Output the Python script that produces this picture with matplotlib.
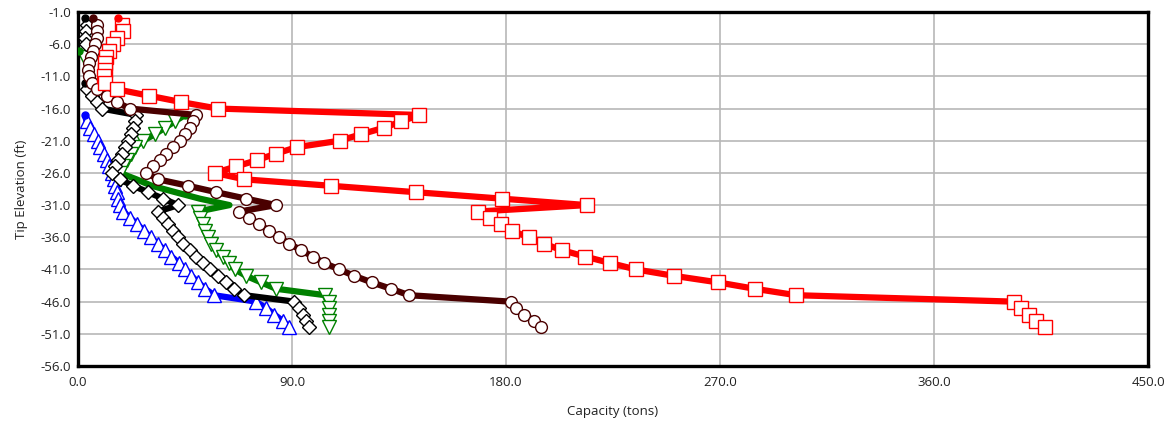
import math
import matplotlib
matplotlib.use("Agg")
import matplotlib.pyplot as plt

nan = float("nan")

# Tip elevation (ft), one value per foot
elevation = [-2, -3, -4, -5, -6, -7, -8, -9, -10, -11, -12, -13, -14, -15, -16, -17,
             -18, -19, -20, -21, -22, -23, -24, -25, -26, -27, -28, -29, -30, -31,
             -32, -33, -34, -35, -36, -37, -38, -39, -40, -41, -42, -43, -44, -45,
             -46, -47, -48, -49, -50]

# Capacity (tons) for each series, NaN = no value
red_cap = [17.0, 18.5, 19.0, 16.5, 14.8, 13.0, 11.8, 11.5, 11.2, 11.0, 11.5, 16.2, 29.8, 43.5, 58.7, 143.5,
           136.0, 128.5, 119.0, 110.0, 92.0, 83.3, 75.4, 66.5, 57.5, 70.0, 106.3, 142.2, 178.3, 214.0,
           168.3, 173.2, 177.7, 182.6, 189.6, 195.9, 203.5, 213.3, 223.8, 234.7, 250.8, 269.0, 284.6, 302.0,
           393.5, 396.5, 400.0, 403.0, 406.5]

brown_cap = [6.2, 7.8, 8.1, 7.8, 7.1, 6.2, 5.3, 4.7, 4.3, 4.7, 5.7, 7.8, 12.0, 16.2, 21.8, 49.8,
             48.4, 47.0, 44.9, 42.8, 40.0, 37.2, 34.4, 31.6, 28.8, 33.7, 46.3, 58.2, 70.7, 83.3,
             67.9, 72.1, 76.3, 80.5, 84.7, 88.9, 93.8, 98.7, 103.6, 109.9, 116.2, 123.5, 131.6, 139.2,
             181.9, 184.0, 187.7, 191.7, 194.9]

black_cap = [2.9, 3.9, 3.4, 2.9, 3.4, nan, nan, nan, nan, nan, 2.9, 3.6, 5.7, 7.8, 9.9, 24.6,
             23.9, 23.2, 22.3, 21.1, 19.7, 18.3, 16.9, 15.5, 14.1, 17.5, 23.2, 29.5, 35.8, 42.1,
             33.7, 35.8, 37.9, 40.0, 42.1, 44.2, 47.0, 49.8, 52.5, 55.4, 58.8, 62.4, 65.8, 70.0,
             91.0, 93.1, 94.5, 95.9, 97.3]

green_cap = [nan, nan, nan, nan, nan, 0.3, 2.6, nan, nan, nan, nan, nan, nan, nan, nan, 45.0,
             40.7, 36.5, 32.3, 27.4, 23.9, 22.2, 20.5, 19.0, 17.6, 24.6, 31.0, 41.0, 51.2, 63.7,
             50.5, 51.2, 52.5, 53.5, 54.5, 56.1, 58.2, 60.9, 63.5, 66.0, 70.7, 77.0, 83.3, 104.0,
             105.7, 105.7, 105.7, 105.7, 105.7]
green_no_marker = [-27, -28, -29, -30, -31]

blue_cap = [nan, nan, nan, nan, nan, nan, nan, nan, nan, nan, nan, nan, nan, nan, nan, 2.9,
            3.6, 5.0, 6.8, 8.3, 9.4, 10.8, 12.0, 13.0, 14.1, 15.0, 15.5, 16.2, 16.8, 17.6,
            19.0, 22.0, 25.0, 27.8, 30.5, 33.5, 36.5, 39.3, 42.5, 45.0, 47.7, 50.5, 53.5, 57.2,
            74.9, 79.1, 82.6, 86.1, 88.9]

x_ticks = [0.0, 90.0, 180.0, 270.0, 360.0, 450.0]
y_ticks = [-1.0, -6.0, -11.0, -16.0, -21.0, -26.0, -31.0, -36.0, -41.0, -46.0, -51.0, -56.0]

series = [
    (green_cap, "#008000", "v", 9.5, 2, green_no_marker),
    (blue_cap, "#0000ff", "^", 9.5, 3, []),
    (black_cap, "#000000", "D", 7.5, 4, []),
    (brown_cap, "#4a0000", "o", 8.5, 5, []),
    (red_cap, "#ff0000", "s", 9.8, 6, []),
]

plt.rcParams["font.family"] = ["Open Sans", "DejaVu Sans"]

fig = plt.figure(figsize=(11.73, 4.28), dpi=100)
ax = fig.add_axes([78 / 1173, 1 - 366 / 428, (1148 - 78) / 1173, (366 - 12) / 428])

for cap, col, mk, ms, z, hidden in series:
    ax.plot(cap, elevation, color=col, lw=4.5, solid_capstyle="butt", zorder=z)
    starts = [i for i, v in enumerate(cap)
              if not math.isnan(v) and (i == 0 or math.isnan(cap[i - 1]))]
    mx = [v if (i not in starts and elevation[i] not in hidden) else nan
          for i, v in enumerate(cap)]
    ax.plot(mx, elevation, linestyle="none", marker=mk, markersize=ms,
            markerfacecolor="white", markeredgecolor=col, markeredgewidth=1.0, zorder=z + 0.5)
    ax.plot([cap[i] for i in starts], [elevation[i] for i in starts], linestyle="none",
            marker="o", markersize=5, color=col, zorder=z + 0.6)

ax.set_xlim(0, 450)
ax.set_ylim(-56, -1)
ax.set_xticks(x_ticks)
ax.set_yticks(y_ticks)
ax.set_xticklabels([f"{v:.1f}" for v in x_ticks])
ax.set_yticklabels([f"{v:.1f}" for v in y_ticks])
ax.tick_params(axis="x", length=0, labelsize=9.5, labelcolor="#222222", pad=7)
ax.tick_params(axis="y", length=0, labelsize=9.5, labelcolor="#222222", pad=5)
ax.grid(True, color="#b8b8b8", lw=1.2, zorder=0)
ax.set_axisbelow(True)
for sp in ax.spines.values():
    sp.set_linewidth(2.4)
    sp.set_color("black")

ax.set_xlabel("Capacity (tons)", fontsize=9.5, color="#222222", labelpad=12)
ax.set_ylabel("Tip Elevation (ft)", fontsize=9.5, color="#222222", labelpad=9)

fig.savefig("out.png", dpi=100)
